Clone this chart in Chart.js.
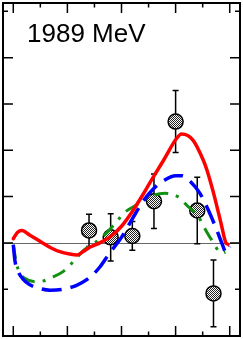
<!DOCTYPE html>
<html><head><meta charset="utf-8">
<style>html,body{margin:0;padding:0;background:#fff;}#wrap{width:243px;height:339px;position:relative;}</style>
<script src="https://cdn.jsdelivr.net/npm/chart.js@4.4.0/dist/chart.umd.min.js"></script>
</head><body><div id="wrap"><canvas id="c" width="243" height="339"></canvas></div>
<script>
const panelLabel = "1989 MeV";
const pointX = [-0.3, -0.1, 0.1, 0.3, 0.5, 0.7, 0.85];
const pointY = [0.27, 0.12, 0.15, 0.90, 2.62, 0.70, -1.09];
const pointErr = [0.35, 0.51, 0.31, 0.59, 0.67, 0.72, 0.72];

const redX = [-1.0, -0.96, -0.92, -0.85, -0.75, -0.65, -0.57, -0.48, -0.41, -0.35, -0.29, -0.2, -0.1, 0.0, 0.1, 0.2, 0.26, 0.39, 0.51, 0.555, 0.66, 0.755, 0.79, 0.85, 0.92, 0.965, 0.985];
const redY = [0.09, 0.23, 0.27, 0.17, 0.03, -0.11, -0.19, -0.24, -0.26, -0.18, -0.09, 0.0, 0.14, 0.36, 0.68, 1.05, 1.29, 1.79, 2.26, 2.35, 2.22, 1.79, 1.57, 1.08, 0.42, 0.0, -0.03];

const blueX = [-1.0, -0.985, -0.955, -0.91, -0.85, -0.76, -0.66, -0.54, -0.42, -0.3, -0.2, -0.11, 0.0, 0.1, 0.2, 0.3, 0.4, 0.5, 0.56, 0.63, 0.725, 0.8, 0.88, 0.93, 0.965, 0.985, 0.998];
const blueY = [-0.04, -0.38, -0.62, -0.78, -0.9, -0.98, -1.02, -1.0, -0.92, -0.76, -0.52, -0.22, 0.12, 0.52, 0.9, 1.18, 1.36, 1.45, 1.45, 1.34, 1.07, 0.72, 0.28, -0.02, -0.2, -0.18, -0.08];

const greenX = [-1.0, -0.97, -0.938, -0.89, -0.8, -0.72, -0.66, -0.54, -0.44, -0.34, -0.23, -0.14, -0.03, 0.02, 0.155, 0.263, 0.4, 0.525, 0.617, 0.71, 0.772, 0.834, 0.926, 0.96];
const greenY = [-0.04, -0.45, -0.65, -0.77, -0.84, -0.82, -0.76, -0.62, -0.39, -0.14, 0.03, 0.21, 0.5, 0.64, 0.84, 1.0, 1.07, 0.99, 0.78, 0.57, 0.3, 0.06, -0.22, -0.2];

const xTicks = [-1, -0.75, -0.5, -0.25, 0, 0.25, 0.5, 0.75, 1];
const yTicks = [-1, 0, 1, 2, 3, 4, 5];

function pts(xs, ys) { return xs.map((x, i) => ({x: x, y: ys[i]})); }

const pc = document.createElement('canvas'); pc.width = 2; pc.height = 2;
const pctx = pc.getContext('2d');
pctx.fillStyle = '#fff'; pctx.fillRect(0, 0, 2, 2);
pctx.fillStyle = '#222'; pctx.fillRect(0, 0, 1, 1); pctx.fillRect(1, 1, 1, 1);
const pattern = document.getElementById('c').getContext('2d').createPattern(pc, 'repeat');

const decor = {
  id: 'decor',
  beforeDatasetsDraw(chart) {
    const {ctx, chartArea: a, scales: {x, y}} = chart;
    ctx.save();
    ctx.strokeStyle = '#666'; ctx.lineWidth = 1;
    const y0 = Math.round(y.getPixelForValue(0)) + 0.5;
    ctx.beginPath(); ctx.moveTo(a.left, y0); ctx.lineTo(a.right, y0); ctx.stroke();
    ctx.strokeStyle = '#000'; ctx.lineWidth = 1.5;
    pointX.forEach((v, i) => {
      const px = x.getPixelForValue(v);
      const top = y.getPixelForValue(pointY[i] + pointErr[i]);
      const bot = y.getPixelForValue(pointY[i] - pointErr[i]);
      ctx.beginPath();
      ctx.moveTo(px, top); ctx.lineTo(px, bot);
      ctx.moveTo(px - 3, top); ctx.lineTo(px + 3, top);
      ctx.moveTo(px - 3, bot); ctx.lineTo(px + 3, bot);
      ctx.stroke();
    });
    ctx.restore();
  },
  afterDatasetsDraw(chart) {
    const {ctx, chartArea: a, scales: {x, y}} = chart;
    ctx.save();
    ctx.strokeStyle = '#000'; ctx.lineWidth = 1.5;
    xTicks.forEach(v => {
      const px = x.getPixelForValue(v);
      const major = Math.abs(v * 2 - Math.round(v * 2)) < 1e-6;
      const L = major ? 10 : 4.5;
      ctx.beginPath();
      ctx.moveTo(px, a.bottom); ctx.lineTo(px, a.bottom - L);
      ctx.moveTo(px, a.top); ctx.lineTo(px, a.top + L);
      ctx.stroke();
    });
    yTicks.forEach(v => {
      const py = y.getPixelForValue(v);
      const L = (v === 5 || v === -1) ? 5 : 10;
      ctx.beginPath();
      ctx.moveTo(a.left, py); ctx.lineTo(a.left + L, py);
      ctx.moveTo(a.right, py); ctx.lineTo(a.right - L, py);
      ctx.stroke();
    });
    ctx.lineWidth = 2;
    ctx.strokeRect(a.left, a.top, a.right - a.left, a.bottom - a.top);
    ctx.fillStyle = '#000';
    ctx.font = "26px 'Liberation Sans', Arial, sans-serif";
    ctx.textBaseline = 'alphabetic';
    ctx.fillText(panelLabel, 27, 42);
    ctx.restore();
  }
};

new Chart(document.getElementById('c'), {
  type: 'scatter',
  data: {
    datasets: [
      {data: pts(pointX, pointY), pointRadius: 7.5, pointBackgroundColor: pattern, pointBorderColor: '#000', pointBorderWidth: 1.5, showLine: false, order: 10},
      {data: pts(greenX, greenY), showLine: true, pointRadius: 0, borderColor: '#129012', borderWidth: 3, borderDash: [14, 8, 3, 8], cubicInterpolationMode: 'monotone', order: 3},
      {data: pts(blueX, blueY), showLine: true, pointRadius: 0, borderColor: '#0000ff', borderWidth: 3.5, borderDash: [20, 9], cubicInterpolationMode: 'monotone', order: 2},
      {data: pts(redX, redY), showLine: true, pointRadius: 0, borderColor: '#ff0000', borderWidth: 3.5, borderCapStyle: 'round', cubicInterpolationMode: 'monotone', order: 1}
    ]
  },
  options: {
    responsive: false, animation: false, devicePixelRatio: 1,
    layout: {autoPadding: false, padding: {left: 3, right: 3, top: 3, bottom: 3}},
    plugins: {legend: {display: false}, tooltip: {enabled: false}, title: {display: false}},
    scales: {
      x: {type: 'linear', min: -1.095, max: 1.095, display: false},
      y: {type: 'linear', min: -2.01, max: 5.18, display: false}
    }
  },
  plugins: [decor]
});
</script></body></html>
